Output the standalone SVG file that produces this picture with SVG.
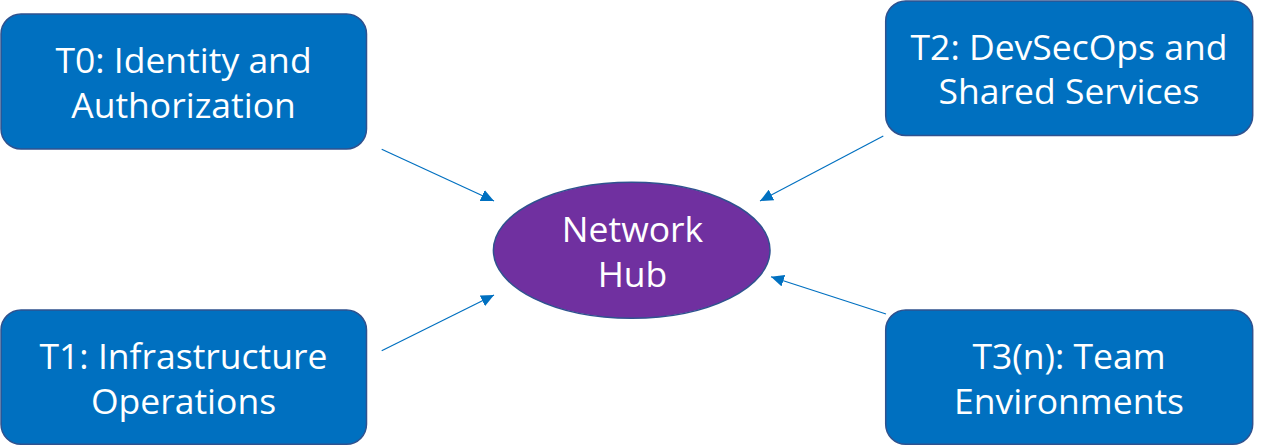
<svg xmlns="http://www.w3.org/2000/svg" width="1261" height="446" viewBox="0 0 1261 446">
<defs>
<style>
.box{fill:#0070C0;stroke:#2F528F;stroke-width:1.5}
.hub{fill:#7030A0;stroke:#2F528F;stroke-width:1.5}
.lbl{font-family:"Open Sans","Noto Sans","Liberation Sans",sans-serif;font-size:35.5px;fill:#FFFFFF;text-anchor:middle}
.conn{stroke:#0070C0;stroke-width:1.2;fill:none;marker-end:url(#arr)}
</style>
<marker id="arr" markerUnits="userSpaceOnUse" markerWidth="14" markerHeight="12" refX="13" refY="6" orient="auto">
<path d="M0,0 L13,6 L0,12 Z" fill="#0070C0"/>
</marker>
</defs>
<rect width="1261" height="446" fill="#FFFFFF"/>
<g id="connectors">
<line class="conn" x1="381.7" y1="149.3" x2="494" y2="201"/>
<line class="conn" x1="883.3" y1="136" x2="760" y2="201"/>
<line class="conn" x1="381.7" y1="350.7" x2="494" y2="295"/>
<line class="conn" x1="886" y1="314" x2="771" y2="276.7"/>
</g>
<g id="t0">
<rect class="box" x="1" y="14" width="365.5" height="135" rx="20"/>
<text class="lbl" x="183.5" y="72.7">T0: Identity and</text>
<text class="lbl" x="183.5" y="118">Authorization</text>
</g>
<g id="t2">
<rect class="box" x="885.7" y="1" width="367" height="134.5" rx="20"/>
<text class="lbl" x="1069" y="60">T2: DevSecOps and</text>
<text class="lbl" x="1069" y="104">Shared Services</text>
</g>
<g id="t1">
<rect class="box" x="1" y="310" width="365.5" height="134.3" rx="20"/>
<text class="lbl" x="183.5" y="368.7">T1: Infrastructure</text>
<text class="lbl" x="183.5" y="414.3">Operations</text>
</g>
<g id="t3">
<rect class="box" x="885.7" y="310" width="367" height="134.3" rx="20"/>
<text class="lbl" x="1069" y="368.7">T3(n): Team</text>
<text class="lbl" x="1069" y="414.3">Environments</text>
</g>
<g id="hub">
<ellipse class="hub" cx="631.7" cy="250.3" rx="138.3" ry="68"/>
<text class="lbl" x="632.5" y="241.7">Network</text>
<text class="lbl" x="632.5" y="286.7">Hub</text>
</g>
</svg>
